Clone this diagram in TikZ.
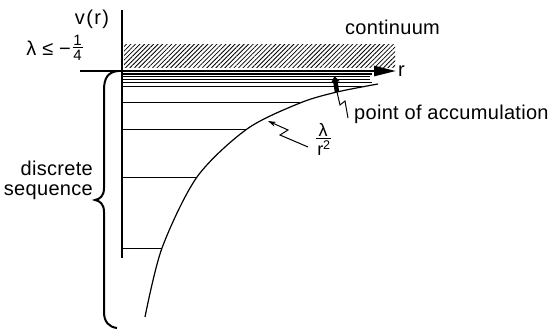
\documentclass[tikz,border=0pt]{standalone}
\usepackage{fontspec}
\setmainfont{Liberation Sans}
\usetikzlibrary{arrows.meta,patterns.meta}
\begin{document}
\begin{tikzpicture}[x=1pt,y=-1pt,
  lbl/.style={inner sep=0pt,font=\fontsize{20}{20}\selectfont\addfontfeatures{LetterSpace=1.5}},
  small/.style={inner sep=0pt,font=\fontsize{15}{15}\selectfont},
  levelline/.style={line width=1pt},
  pointer/.style={line width=1pt}]
\useasboundingbox (0,0) rectangle (560,329);
% hatched continuum
\fill[pattern={Lines[angle=45,distance=3.2pt,line width=0.8pt]}] (124,45) rectangle (395,68);
% axes
\coordinate (vtop) at (122,10);
\coordinate (vbot) at (122,258);
\coordinate (hleft) at (80,71);
\coordinate (hright) at (396,71);
\draw[line width=1.3pt] (vtop) -- (vbot);
\draw[line width=2.5pt,-{Triangle[length=22pt,width=10pt]}] (hleft) -- (hright);
% energy levels near accumulation
\draw[line width=2pt] (122,74) -- (372,74);
\draw[levelline] (122,77) -- (370,77);
\draw[levelline] (122,80) -- (370,80);
\draw[levelline] (122,83) -- (372,83);
\draw[levelline] (122,87) -- (362,87);
% lower levels
\draw[levelline] (122,103) -- (300,103);
\draw[levelline] (122,129) -- (247,129);
\draw[levelline] (122,177) -- (197,177);
\draw[levelline] (122,248) -- (162,248);
% potential curve
\draw[line width=1.2pt] plot[smooth] coordinates {(145,317) (162,248) (197,177) (247,129) (300,103) (337,92) (378,84)};
% brace
\draw[line width=2pt] (118,71) .. controls (108,72) and (104,78) .. (104,90) -- (104,188)
  .. controls (104,196) and (100,199) .. (95,200)
  .. controls (100,201) and (104,204) .. (104,212) -- (104,312)
  .. controls (104,322) and (109,327) .. (117,328);
% labels
\node[lbl,anchor=center,font=\fontsize{20}{20}\selectfont\addfontfeatures{LetterSpace=7}] (vr) at (92,19) {v(r)};
\node[lbl,anchor=east] (lam) at (71,48) {λ ≤ −};
\node[small,anchor=south] (qnum) at (77.5,46) {1};
\node[small,anchor=north] (qden) at (77.5,49.5) {4};
\draw[line width=1pt] (qden.north west) ++(-0.5,-1.5) -- ++(10,0);
\node[lbl,anchor=base west] (cont) at (345,35) {continuum};
\node[lbl,anchor=base west] (r) at (398,77) {r};
\node[lbl,anchor=base west] (acc) at (354,119) {point of accumulation};
\node[lbl,anchor=base east] (disc) at (93,175) {discrete};
\node[lbl,anchor=base east] (seq) at (93,195) {sequence};
\node[inner sep=0pt,anchor=south,font=\fontsize{18}{18}\selectfont] (lnum) at (323,136.5) {λ};
\node[inner sep=0pt,anchor=north,font=\fontsize{18}{18}\selectfont] (rden) at (324,140.5) {r\textsuperscript{2}};
\draw[line width=1pt] (316,138.5) -- (331,138.5);
% pointers
\coordinate (accA) at (337,92);
\coordinate (accB) at (334.5,76);
\draw[line width=4.5pt,-{Triangle[length=6pt,width=8pt]}] (accA) -- (accB);
\draw[pointer] (accA) -- (340,105) -- (345,101) -- (348,118);
\coordinate (lrTip) at (268,121);
\draw[pointer,-{Stealth[length=8pt,width=5pt]}] (308,147) -- (280,135) -- (288,130) -- (lrTip);
\end{tikzpicture}
\end{document}
